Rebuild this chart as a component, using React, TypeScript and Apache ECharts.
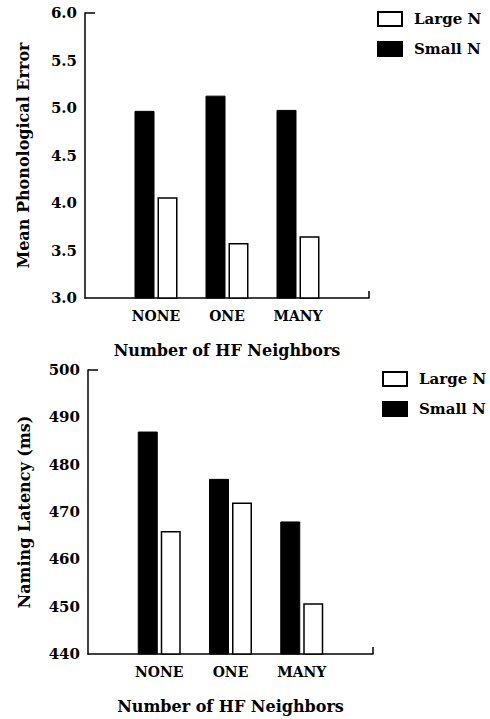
import React, { useEffect, useRef } from "react";
import * as echarts from "echarts";

const categories = ["NONE", "ONE", "MANY"];
const seriesNames = ["Small N", "Large N"];
const legendOrder = ["Large N", "Small N"];

const errorSmallN = [4.97, 5.13, 4.98];
const errorLargeN = [4.06, 3.58, 3.65];
const errorTicks = { min: 3.0, max: 6.0, interval: 0.5 };

const latencySmallN = [487, 477, 468];
const latencyLargeN = [466, 472, 450.7];
const latencyTicks = { min: 440, max: 500, interval: 10 };

const FONT = "DejaVu Serif";

const paddedCats = ["", ...categories, ""];
const pad = (arr: number[]) => [null, ...arr, null];

export default function App() {
  const ref = useRef<HTMLDivElement>(null);
  useEffect(() => {
    document.body.style.margin = "0";
    const chart = echarts.init(ref.current!, null, { renderer: "svg" });

    const grids = [
      { left: 85, right: 121, top: 13, height: 285 },
      { left: 88, right: 117, top: 370, height: 284 },
    ];

    const nameStyle = { fontFamily: FONT, fontSize: 16, fontWeight: "bold", color: "#000" };

    const xAxis = [0, 1].map((g) => ({
      type: "category",
      gridIndex: g,
      data: paddedCats,
      boundaryGap: false,
      name: "Number of HF Neighbors",
      nameLocation: "middle",
      nameGap: 44,
      nameTextStyle: nameStyle,
      axisLine: { lineStyle: { color: "#000", width: 1.5 } },
      axisTick: {
        show: true,
        inside: true,
        length: 7,
        interval: (i: number) => i === paddedCats.length - 1,
        lineStyle: { color: "#000", width: 1.5 },
      },
      axisLabel: {
        fontFamily: FONT,
        fontSize: 14,
        fontWeight: "bold",
        color: "#000",
        margin: 11,
        interval: 0,
      },
      splitLine: { show: false },
    }));

    const yAxis = [
      {
        type: "value",
        gridIndex: 0,
        ...errorTicks,
        name: "Mean Phonological Error",
        nameLocation: "middle",
        nameGap: 54,
        nameTextStyle: nameStyle,
        axisLine: { show: true, lineStyle: { color: "#000", width: 1.5 } },
        axisTick: { show: false },
        axisLabel: {
          fontFamily: FONT,
          fontSize: 15,
          fontWeight: "bold",
          color: "#000",
          margin: 8,
          formatter: (v: number) => v.toFixed(1),
        },
        splitLine: { show: false },
      },
      {
        type: "value",
        gridIndex: 1,
        ...latencyTicks,
        name: "Naming Latency (ms)",
        nameLocation: "middle",
        nameGap: 56,
        nameTextStyle: nameStyle,
        axisLine: { show: true, lineStyle: { color: "#000", width: 1.5 } },
        axisTick: { show: false },
        axisLabel: {
          fontFamily: FONT,
          fontSize: 15,
          fontWeight: "bold",
          color: "#000",
          margin: 8,
        },
        splitLine: { show: false },
      },
    ];

    const small = { color: "#000", borderColor: "#000", borderWidth: 1 };
    const large = { color: "#fff", borderColor: "#000", borderWidth: 1.5 };

    const mk = (name: string, g: number, data: number[], style: any) => ({
      type: "bar",
      name,
      xAxisIndex: g,
      yAxisIndex: g,
      data: pad(data),
      barWidth: 20,
      barGap: "15%",
      itemStyle: style,
    });

    const series = [
      mk(seriesNames[0], 0, errorSmallN, small),
      mk(seriesNames[1], 0, errorLargeN, large),
      mk(seriesNames[0], 1, latencySmallN, small),
      mk(seriesNames[1], 1, latencyLargeN, large),
    ];

    const legendBase = {
      data: legendOrder,
      orient: "vertical",
      icon: "rect",
      itemWidth: 24,
      itemHeight: 14,
      itemGap: 14,
      selectedMode: false,
      textStyle: {
        fontFamily: FONT,
        fontSize: 15,
        fontWeight: "bold",
        color: "#000",
        padding: [0, 0, 0, 7],
      },
    };

    chart.setOption({
      animation: false,
      backgroundColor: "#fff",
      grid: grids,
      xAxis,
      yAxis,
      series,
      legend: [
        { ...legendBase, left: 372, top: 6 },
        { ...legendBase, left: 377, top: 366 },
      ],
    });

    // short top ticks on the y axes
    const graphics: any[] = [];
    [0, 1].forEach((g) => {
      const x0 = chart.convertToPixel({ xAxisIndex: g }, 0) as number;
      const maxV = g === 0 ? errorTicks.max : latencyTicks.max;
      const y0 = chart.convertToPixel({ yAxisIndex: g }, maxV) as number;
      graphics.push({
        type: "line",
        shape: { x1: x0, y1: y0, x2: x0 + 10, y2: y0 },
        style: { stroke: "#000", lineWidth: 1.5 },
      });
    });
    chart.setOption({ graphic: graphics });

    return () => chart.dispose();
  }, []);
  return (
    <div
      ref={ref}
      style={{ position: "fixed", left: 0, top: 0, width: 490, height: 719 }}
    />
  );
}
